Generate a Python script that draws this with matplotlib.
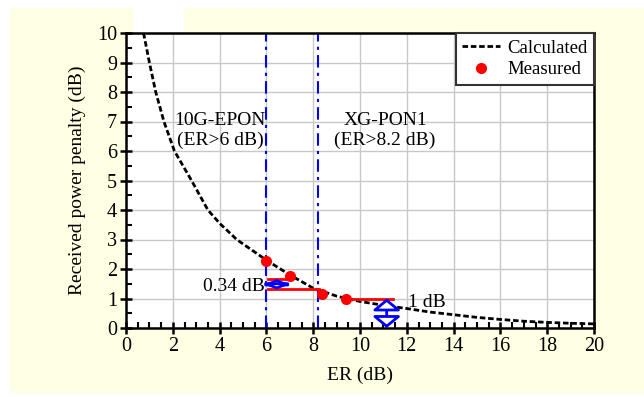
import matplotlib.pyplot as plt
from matplotlib.patches import Rectangle
from matplotlib.ticker import MultipleLocator

plt.rcParams['font.family'] = 'Liberation Serif'
plt.rcParams['font.size'] = 13.5

# calculated penalty curve
er_calc = [0.75, 1.0, 1.27, 1.62, 2.07, 2.8, 3.5, 4.0, 4.73, 5.0, 6.0, 7.0, 8.0, 9.0,
           10.0, 11.0, 12.0, 13.0, 14.0, 15.0, 16.0, 17.0, 18.0, 19.0, 20.0]
pen_calc = [10.0, 9.0, 8.0, 7.0, 6.0, 5.0, 4.0, 3.55, 3.0, 2.85, 2.3, 1.8, 1.35, 1.08,
            0.9, 0.77, 0.66, 0.54, 0.45, 0.36, 0.29, 0.23, 0.19, 0.16, 0.14]

# measured points
er_meas = [6.0, 7.0, 8.37, 9.4]
pen_meas = [2.27, 1.77, 1.14, 0.97]

# standards limits
std_er = [6.0, 8.2]
std_labels = ['10G-EPON\n(ER>6 dB)', 'XG-PON1\n(ER>8.2 dB)']
std_label_x = [4.02, 11.07]

# penalty markers
gap_levels = [1.65, 1.31]
gap_ends = [7.0, 8.25]
gap_start = 6.07
onedb_x = [9.4, 11.42]
onedb_level = 1.0

fig = plt.figure(figsize=(6.44, 3.97), dpi=100)
fig.patch.set_facecolor('white')
fig.patches.append(Rectangle((10 / 644, 4 / 397), 634 / 644, 385 / 397,
                             transform=fig.transFigure, facecolor='#FFFFE3',
                             edgecolor='none', zorder=-10))
fig.patches.append(Rectangle((133 / 644, 1 - 34 / 397), 51 / 644, 27 / 397,
                             transform=fig.transFigure, facecolor='white',
                             edgecolor='none', zorder=-9))

ax = fig.add_axes([126 / 644, 1 - 328 / 397, 468 / 644, 295 / 397])
ax.set_facecolor('white')

ax.plot(er_calc, pen_calc, color='black', lw=2, ls=(0, (2, 1)), label='Calculated', zorder=3)
ax.plot(er_meas, pen_meas, 'o', color='red', ms=7, label='Measured', zorder=5)

for x in std_er:
    ax.axvline(x, color='blue', lw=1.5, ls=(0, (6, 2.5, 1.5, 2.5)), zorder=2)
for x, s in zip(std_label_x, std_labels):
    ax.text(x, 6.7, s, ha='center', va='center', multialignment='center',
            fontsize=14, linespacing=1.2)

for lvl, end in zip(gap_levels, gap_ends):
    ax.plot([gap_start, end], [lvl, lvl], color='red', lw=2, zorder=4)
ax.plot(onedb_x, [onedb_level, onedb_level], color='red', lw=2, zorder=4)

ax.annotate('', xy=(6.44, gap_levels[1]), xytext=(6.44, gap_levels[0]),
            arrowprops=dict(arrowstyle='<|-|>,head_width=0.8,head_length=0.3',
                            fc='white', ec='blue', lw=2, shrinkA=0, shrinkB=0,
                            mutation_scale=10), zorder=6)
ax.annotate('', xy=(11.14, 0.0), xytext=(11.14, onedb_level),
            arrowprops=dict(arrowstyle='<|-|>,head_width=0.85,head_length=0.7',
                            fc='white', ec='blue', lw=2, shrinkA=0, shrinkB=0,
                            mutation_scale=10), zorder=6)
ax.text(5.95, 1.42, '0.34 dB', ha='right', va='center', fontsize=14)
ax.text(12.05, 0.87, '1 dB', ha='left', va='center', fontsize=14)

ax.set_xlim(0, 20)
ax.set_ylim(0, 10)
ax.xaxis.set_major_locator(MultipleLocator(2))
ax.xaxis.set_minor_locator(MultipleLocator(0.5))
ax.yaxis.set_major_locator(MultipleLocator(1))
ax.yaxis.set_minor_locator(MultipleLocator(0.5))
ax.tick_params(which='major', direction='inout', length=9, width=1.8, labelsize=14.5, pad=2)
ax.tick_params(which='minor', direction='in', length=4.5, width=1.5)
ax.grid(True, which='major', color='#c8c8c8', lw=1)
ax.set_axisbelow(True)
for sp in ax.spines.values():
    sp.set_linewidth(1.8)

ax.set_xlabel('ER (dB)', fontsize=14, labelpad=8)
ax.set_ylabel('Received power penalty (dB)', fontsize=14, labelpad=8)

leg = ax.legend(loc='upper right', bbox_to_anchor=(1, 1), borderaxespad=0,
                fancybox=False, framealpha=1, edgecolor='#333333', fontsize=13.5,
                labelspacing=0.25, borderpad=0.35, handlelength=2.0,
                handletextpad=0.4, numpoints=1)
leg.get_frame().set_linewidth(1.5)

fig.savefig('out.png', dpi=100)
